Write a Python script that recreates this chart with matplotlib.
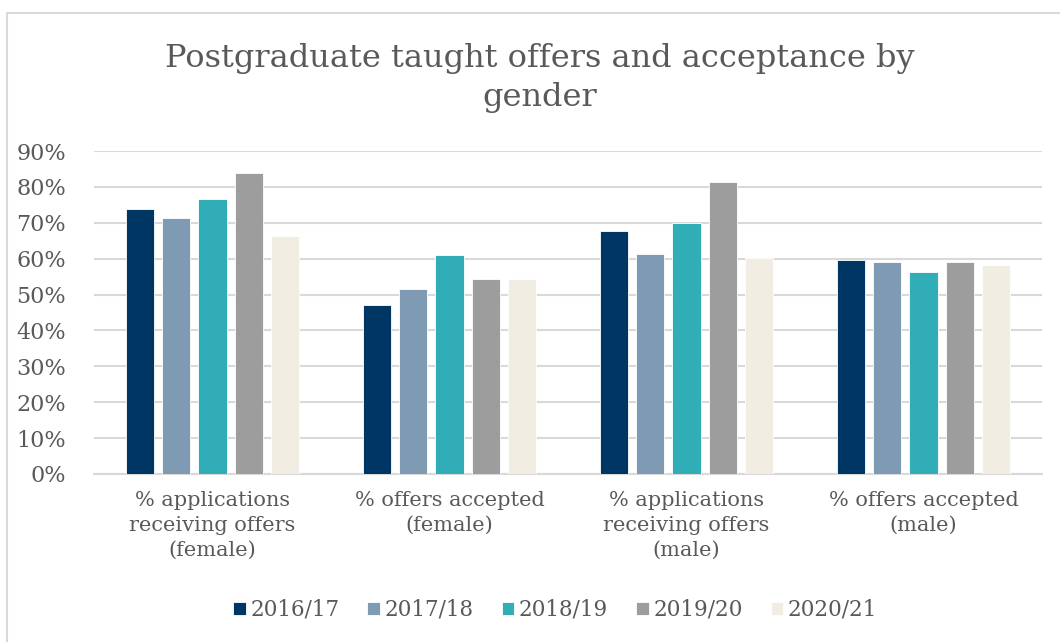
import numpy as np
import matplotlib
matplotlib.use("Agg")
import matplotlib.pyplot as plt
from matplotlib.ticker import PercentFormatter
from matplotlib.patches import Rectangle

categories = [
    "% applications\nreceiving offers\n(female)",
    "% offers accepted\n(female)",
    "% applications\nreceiving offers\n(male)",
    "% offers accepted\n(male)",
]
years = ["2016/17", "2017/18", "2018/19", "2019/20", "2020/21"]
values = {
    "2016/17": [73.9, 47.1, 67.8, 59.6],
    "2017/18": [71.2, 51.5, 61.3, 59.1],
    "2018/19": [76.6, 61.0, 69.9, 56.3],
    "2019/20": [84.0, 54.3, 81.4, 59.2],
    "2020/21": [66.2, 54.4, 60.1, 58.2],
}
colors = ["#003663", "#7f9bb4", "#30adb7", "#9d9d9d", "#f1ede2"]

text_col = "#595959"
grid_col = "#d9d9d9"
plt.rcParams["font.family"] = ["DejaVu Serif"]

fig = plt.figure(figsize=(10.6, 6.42), dpi=100)
ax = fig.add_axes([94 / 1060, 1 - 474 / 642, 948 / 1060, 323 / 642])

# chart border (only left/top visible in the crop)
fig.patches.append(Rectangle((7 / 1060, -0.05), 1.2, 1 - 13 / 642 + 0.05,
                             transform=fig.transFigure, fill=False,
                             edgecolor=grid_col, lw=1.5))

x = np.arange(len(categories))
pitch = 0.153
width = 0.119
for i, yr in enumerate(years):
    ax.bar(x + (i - 2) * pitch, values[yr], width, color=colors[i],
           edgecolor="white", linewidth=0.6, label=yr, zorder=3)

ax.set_xlim(-0.5, len(categories) - 0.5)
ax.set_ylim(0, 90)
ax.set_yticks(np.arange(0, 91, 10))
ax.yaxis.set_major_formatter(PercentFormatter(decimals=0))
ax.grid(axis="y", color=grid_col, lw=1.5, zorder=0)
for s in ["top", "right", "left"]:
    ax.spines[s].set_visible(False)
ax.spines["bottom"].set_color(grid_col)
ax.spines["bottom"].set_linewidth(1.5)
ax.tick_params(axis="both", length=0, colors=text_col)
ax.tick_params(axis="y", pad=20, labelsize=16)
ax.tick_params(axis="x", pad=12, labelsize=15)
ax.set_xticks(x)
ax.set_xticklabels(categories, linespacing=1.4)

fig.text(540 / 1060, 1 - 78 / 642,
         "Postgraduate taught offers and acceptance by\ngender",
         ha="center", va="center", fontsize=23, color=text_col, linespacing=1.3)

leg = fig.legend(loc="center", bbox_to_anchor=(555 / 1060, 1 - 610 / 642),
                 ncol=5, frameon=False, fontsize=15.5, handlelength=0.6,
                 handleheight=0.6, handletextpad=0.2, columnspacing=1.3,
                 labelcolor=text_col)

fig.savefig("out.png", dpi=100, facecolor="white")
